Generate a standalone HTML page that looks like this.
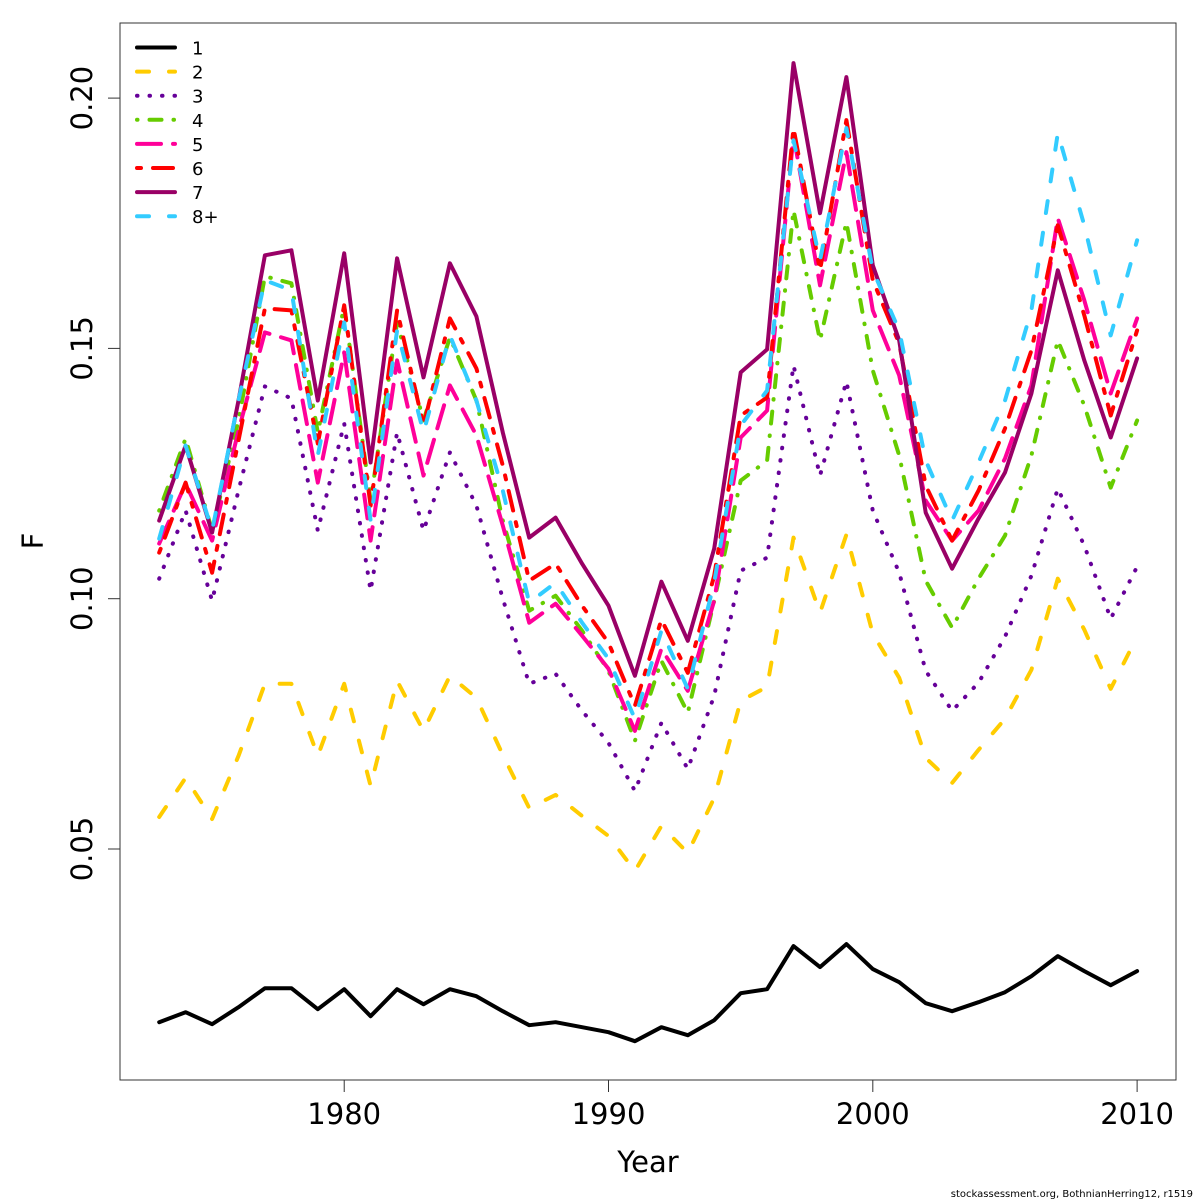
<!DOCTYPE html>
<html><head><meta charset="utf-8"><style>
body{margin:0;background:#fff}
svg{display:block;font-family:"DejaVu Sans","Liberation Sans",sans-serif}
</style></head><body>
<svg id="chart" width="1200" height="1200" viewBox="0 0 1200 1200">
<rect x="0" y="0" width="1200" height="1200" fill="#fff"/>
<g id="plot"></g>
<rect x="120" y="23" width="1056" height="1057" fill="none" stroke="#333" stroke-width="1"/>
<g id="axes"></g>
<g id="legend"></g>
<text x="648" y="1172" font-size="29" text-anchor="middle">Year</text>
<text transform="translate(43,541) rotate(-90)" font-size="29" text-anchor="middle">F</text>
<text x="1193" y="1197" font-size="10" text-anchor="end">stockassessment.org, BothnianHerring12, r1519</text>
</svg>
<script>
const years=[1973,1974,1975,1976,1977,1978,1979,1980,1981,1982,1983,1984,1985,1986,1987,1988,1989,1990,1991,1992,1993,1994,1995,1996,1997,1998,1999,2000,2001,2002,2003,2004,2005,2006,2007,2008,2009,2010];
const seriesNames=["1","2","3","4","5","6","7","8+"];
const s1=[0.0154,0.0174,0.0150,0.0184,0.0222,0.0222,0.0180,0.0220,0.0166,0.0220,0.0190,0.0220,0.0206,0.0176,0.0148,0.0154,0.0144,0.0134,0.0116,0.0144,0.0128,0.0158,0.0212,0.0220,0.0306,0.0264,0.0310,0.0260,0.0234,0.0192,0.0176,0.0194,0.0214,0.0246,0.0286,0.0256,0.0228,0.0256];
const s2=[0.0564,0.0642,0.056,0.0686,0.083,0.083,0.0686,0.083,0.0626,0.0836,0.0736,0.0846,0.0802,0.0688,0.0582,0.0608,0.0566,0.0526,0.0456,0.0546,0.0492,0.0602,0.0796,0.0824,0.1122,0.0972,0.1128,0.093,0.0842,0.0682,0.0632,0.0698,0.076,0.0858,0.104,0.0938,0.082,0.0924];
const s3=[0.104,0.1176,0.0996,0.1216,0.1424,0.14,0.1136,0.135,0.1016,0.1332,0.1136,0.1292,0.1186,0.1,0.083,0.085,0.0776,0.0712,0.0616,0.0752,0.066,0.0806,0.1056,0.1082,0.1466,0.1246,0.1434,0.1176,0.1052,0.0856,0.0776,0.0832,0.0924,0.1046,0.122,0.1106,0.096,0.1064];
const s4=[0.1176,0.132,0.1136,0.1356,0.1644,0.163,0.1332,0.1584,0.1196,0.1552,0.1356,0.1522,0.1396,0.1156,0.0976,0.1006,0.0936,0.0856,0.0716,0.0876,0.0772,0.0996,0.1236,0.1276,0.1776,0.1516,0.1752,0.1456,0.1286,0.1036,0.0942,0.104,0.1126,0.1286,0.1516,0.1386,0.1222,0.1356];
const s5=[0.111,0.123,0.1116,0.1336,0.1532,0.1516,0.1232,0.1492,0.1116,0.1476,0.1246,0.1426,0.1326,0.1146,0.0952,0.099,0.0926,0.086,0.0736,0.09,0.0816,0.0996,0.1322,0.1376,0.1926,0.1626,0.1892,0.1576,0.1446,0.1196,0.1116,0.1176,0.128,0.1426,0.176,0.1596,0.141,0.156];
const s6=[0.1092,0.1232,0.1052,0.1316,0.158,0.1576,0.131,0.1586,0.1186,0.1576,0.1346,0.156,0.146,0.1266,0.1036,0.107,0.0986,0.0912,0.0786,0.0958,0.0852,0.1046,0.1366,0.1402,0.194,0.1656,0.1956,0.1636,0.151,0.1226,0.1116,0.1216,0.134,0.1496,0.1746,0.1566,0.1366,0.1536];
const s7=[0.1156,0.1306,0.1132,0.1396,0.1686,0.1696,0.1396,0.169,0.1272,0.168,0.1442,0.167,0.1564,0.1332,0.1122,0.1162,0.107,0.0986,0.0846,0.1034,0.0916,0.11,0.1452,0.1498,0.207,0.177,0.2042,0.1666,0.1516,0.1172,0.106,0.116,0.1252,0.141,0.1656,0.1476,0.1322,0.148];
const s8=[0.112,0.1306,0.1136,0.1396,0.1636,0.1616,0.1286,0.1552,0.1156,0.1536,0.1332,0.1526,0.1396,0.1216,0.0992,0.1032,0.0952,0.088,0.076,0.0936,0.082,0.1032,0.1346,0.1416,0.1916,0.1676,0.194,0.1656,0.1536,0.1276,0.1156,0.1272,0.1396,0.1576,0.193,0.1746,0.1526,0.1716];
const xTicks=[1980,1990,2000,2010];
const yTicks=[0.05,0.10,0.15,0.20];
const yTickLabels=["0.05","0.10","0.15","0.20"];

const allSeries=[s1,s2,s3,s4,s5,s6,s7,s8];
const colors=["#000000","#FFCC00","#660099","#66CC00","#FF0099","#FF0000","#990066","#33CCFF"];
const dashes=["","12 20","0.5 12","0.5 12 12 12","24 12","4 12 20 12","","12 20"];
const NS="http://www.w3.org/2000/svg";
function xs(y){return 159.2+(y-1973)*26.43;}
function ys(v){return 849-(v-0.05)*5006;}
function mk(tag,attrs,parent){const e=document.createElementNS(NS,tag);for(const k in attrs)e.setAttribute(k,attrs[k]);parent.appendChild(e);return e;}
const plot=document.getElementById('plot');
allSeries.forEach((s,i)=>{
  const d=s.map((v,j)=>(j?'L':'M')+xs(years[j]).toFixed(1)+','+ys(v).toFixed(1)).join(' ');
  const p=mk('path',{d:d,fill:'none',stroke:colors[i],'stroke-width':4,'stroke-linecap':'round','stroke-linejoin':'round'},plot);
  if(dashes[i])p.setAttribute('stroke-dasharray',dashes[i]);
  
  
});
const axes=document.getElementById('axes');
mk('line',{x1:xs(1980),x2:xs(2010),y1:1080,y2:1080,stroke:'#333'},axes);
xTicks.forEach(t=>{
  mk('line',{x1:xs(t),x2:xs(t),y1:1080,y2:1092,stroke:'#333'},axes);
  const tx=mk('text',{x:xs(t),y:1124,'font-size':29,'text-anchor':'middle'},axes);
  tx.textContent=t;
  
  
});
yTicks.forEach((t,i)=>{
  mk('line',{x1:108,x2:120,y1:ys(t),y2:ys(t),stroke:'#333'},axes);
  const tx=mk('text',{transform:'translate(92,'+ys(t)+') rotate(-90)','font-size':29,'text-anchor':'middle'},axes);
  tx.textContent=yTickLabels[i];
  
  
});
const leg=document.getElementById('legend');
seriesNames.forEach((n,i)=>{
  const y=47.5+i*24.1;
  const g=mk('g',{},leg);
  
  
  const l=mk('line',{x1:137,x2:175,y1:y,y2:y,stroke:colors[i],'stroke-width':4,'stroke-linecap':'round'},g);
  if(dashes[i])l.setAttribute('stroke-dasharray',dashes[i]);
  const t=mk('text',{x:192,y:y+7,'font-size':18},g);
  t.textContent=n;
});
</script>
</body></html>
